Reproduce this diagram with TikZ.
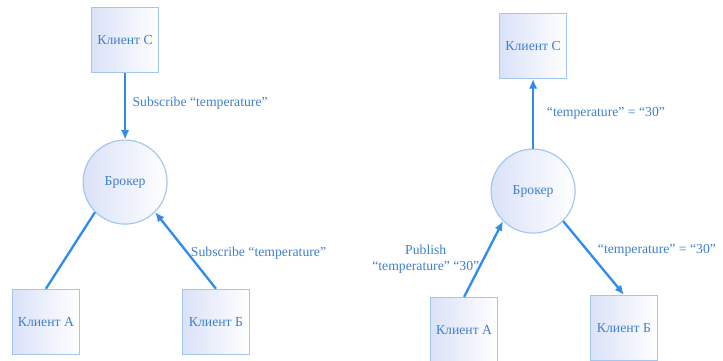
\documentclass[tikz,border=0pt]{standalone}
\usepackage{fontspec}
\setmainfont{Liberation Serif}
\usepackage{xcolor}
\usepackage{tikz}
\usetikzlibrary{arrows.meta}
\usetikzlibrary{positioning}
\definecolor{lineblue}{HTML}{2F8CEB}
\definecolor{textblue}{HTML}{3F7FCF}
\definecolor{edgeblue}{HTML}{A3C6F0}
\definecolor{fillblue}{HTML}{DAE2F8}
\tikzstyle{client}=[draw=edgeblue,line width=1.1pt,rectangle,minimum width=2.23cm,minimum height=2.17cm,left color=fillblue,right color=white,text=textblue,align=center]
\tikzstyle{broker}=[draw=edgeblue,line width=1.1pt,circle,minimum size=2.8cm,left color=fillblue,right color=white,text=textblue,align=center]
\tikzstyle{msg}=[draw=lineblue,line width=2.2pt,-{Latex[length=9pt,width=8pt]}]
\tikzstyle{link}=[draw=lineblue,line width=2.2pt,-]
\tikzstyle{lbl}=[text=textblue,align=center,inner sep=2pt]

\begin{document}
\begin{tikzpicture}[font=\fontsize{13}{15}\selectfont]
\useasboundingbox (0,0) rectangle (24.1,-12.033);
\begin{scope}
	\node[client] (cc) at (4.17,-1.33) {Клиент C};
	\node[broker] (br) at (4.17,-6.07) {Брокер};
	\node[client] (ca) at (1.53,-10.73) {Клиент A};
	\node[client] (cb) at (7.2,-10.73) {Клиент Б};

	\path (cc) edge[msg]
	node [lbl, midway, right, xshift=4pt, yshift=3pt] {Subscribe “temperature”} (br) ;

	\path (ca.north) edge[link] (br.225);

	\path (cb.north) edge[msg]
	node [lbl, midway, right, xshift=2pt, yshift=-3pt] {Subscribe “temperature”} (br.-45) ;
\end{scope}
\begin{scope}
	\node[client] (cc2) at (17.77,-1.53) {Клиент C};
	\node[broker] (br2) at (17.77,-6.37) {Брокер};
	\node[client] (ca2) at (15.47,-11.0) {Клиент A};
	\node[client] (cb2) at (20.8,-10.93) {Клиент Б};

	\path (br2) edge[msg]
	node [lbl, midway, right, xshift=10pt] {“temperature” = “30”} (cc2) ;

	\path (ca2.north) edge[msg]
	node [lbl, midway, left, xshift=-1pt] {Publish\\“temperature” “30”} (br2.225) ;

	\path (br2.-45) edge[msg]
	node [lbl, midway, right, xshift=1pt, yshift=7pt] {“temperature” = “30”} (cb2.north) ;
\end{scope}
\end{tikzpicture}
\end{document}
